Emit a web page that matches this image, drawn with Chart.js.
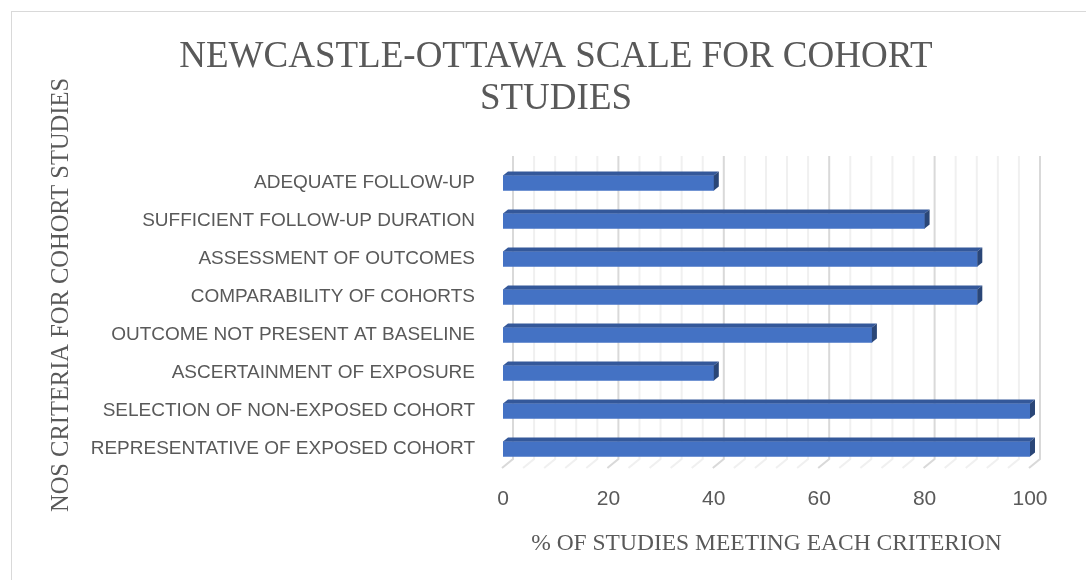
<!DOCTYPE html>
<html>
<head>
<meta charset="utf-8">
<script src="https://cdn.jsdelivr.net/npm/chart.js@4/dist/chart.umd.min.js"></script>
<style>
  html, body { margin: 0; padding: 0; background: #ffffff; }
  #wrap { position: relative; width: 1086px; height: 580px; }
</style>
</head>
<body>
<div id="wrap"><canvas id="c" width="1086" height="580"></canvas></div>
<script>
// NOS criteria, listed top to bottom
const criteria = [
  'ADEQUATE FOLLOW-UP',
  'SUFFICIENT FOLLOW-UP DURATION',
  'ASSESSMENT OF OUTCOMES',
  'COMPARABILITY OF COHORTS',
  'OUTCOME NOT PRESENT AT BASELINE',
  'ASCERTAINMENT OF EXPOSURE',
  'SELECTION OF NON-EXPOSED COHORT',
  'REPRESENTATIVE OF EXPOSED COHORT'
];
// % of studies meeting each criterion
const percentMeeting = [40, 80, 90, 90, 70, 40, 100, 100];
// value axis ticks
const axisMin = 0;
const axisMax = 100;
const majorStep = 20;
const minorStep = 4;

const chartTitle = ['NEWCASTLE-OTTAWA SCALE FOR COHORT', 'STUDIES'];
const xTitle = '% OF STUDIES MEETING EACH CRITERION';
const yTitle = 'NOS CRITERIA FOR COHORT STUDIES';

const TEXT = '#595959';
const WALL = { dx: 10, dy: 9 };   // depth of the back wall
const BAR3D = { dx: 5, dy: 4 };   // depth of each bar

// Frame, main title and the vertical axis title
const framePlugin = {
  id: 'frame',
  beforeDraw(chart) {
    const ctx = chart.ctx;
    ctx.save();
    ctx.fillStyle = '#ffffff';
    ctx.fillRect(0, 0, chart.width, chart.height);
    ctx.strokeStyle = '#d9d9d9';
    ctx.lineWidth = 1;
    ctx.strokeRect(11.5, 11.5, chart.width + 20, chart.height + 20);
    ctx.restore();
  },
  afterDraw(chart) {
    const ctx = chart.ctx;
    ctx.save();
    ctx.fillStyle = TEXT;
    ctx.font = '37px "Liberation Serif", serif';
    ctx.textAlign = 'center';
    ctx.textBaseline = 'middle';
    chartTitle.forEach((line, i) => ctx.fillText(line, 556, 57 + i * 42));
    ctx.translate(62, 295);
    ctx.rotate(-Math.PI / 2);
    ctx.font = '24.5px "Liberation Serif", serif';
    ctx.fillText(yTitle, 0, 0);
    ctx.restore();
  }
};

// Back wall gridlines and floor lines of the 3-D plot area, then bar depth faces
const wallPlugin = {
  id: 'wall',
  beforeDatasetsDraw(chart) {
    const ctx = chart.ctx;
    const xs = chart.scales.x;
    const area = chart.chartArea;
    const top = area.top - 8;
    const backBottom = area.bottom - WALL.dy;
    ctx.save();
    ctx.lineWidth = 2;
    for (let v = axisMin; v <= axisMax; v += minorStep) {
      const major = v % majorStep === 0;
      const xb = xs.getPixelForValue(v) + WALL.dx;
      ctx.strokeStyle = major ? '#d9d9d9' : '#f0f0f0';
      ctx.beginPath();
      ctx.moveTo(xb, top);
      ctx.lineTo(xb, backBottom);
      ctx.lineTo(xb - WALL.dx - 1, area.bottom);
      ctx.stroke();
    }
    ctx.restore();
  },
  afterDatasetsDraw(chart) {
    const ctx = chart.ctx;
    const meta = chart.getDatasetMeta(0);
    ctx.save();
    meta.data.forEach(bar => {
      const p = bar.getProps(['x', 'y', 'base', 'height'], true);
      const x0 = p.base, x1 = p.x;
      const t = p.y - p.height / 2, b = p.y + p.height / 2;
      // top face
      ctx.fillStyle = '#34589a';
      ctx.beginPath();
      ctx.moveTo(x0, t);
      ctx.lineTo(x0 + BAR3D.dx, t - BAR3D.dy);
      ctx.lineTo(x1 + BAR3D.dx, t - BAR3D.dy);
      ctx.lineTo(x1, t);
      ctx.closePath();
      ctx.fill();
      // end face
      ctx.fillStyle = '#2a4677';
      ctx.beginPath();
      ctx.moveTo(x1, t);
      ctx.lineTo(x1 + BAR3D.dx, t - BAR3D.dy);
      ctx.lineTo(x1 + BAR3D.dx, b - BAR3D.dy);
      ctx.lineTo(x1, b);
      ctx.closePath();
      ctx.fill();
    });
    ctx.restore();
  }
};

const LEFT_PAD = 20;
const AREA_LEFT = 503;
const AREA_TOP = 164;
const AREA_BOTTOM = 468;
const BOTTOM_PAD = 22;

new Chart(document.getElementById('c'), {
  type: 'bar',
  data: {
    labels: criteria,
    datasets: [{
      data: percentMeeting,
      backgroundColor: '#4472c4',
      borderWidth: 0,
      barThickness: 15
    }]
  },
  plugins: [framePlugin, wallPlugin],
  options: {
    indexAxis: 'y',
    responsive: false,
    animation: false,
    layout: { padding: { left: LEFT_PAD, right: 56, top: AREA_TOP, bottom: BOTTOM_PAD } },
    plugins: {
      legend: { display: false },
      title: { display: false },
      tooltip: { enabled: false }
    },
    scales: {
      x: {
        min: axisMin,
        max: axisMax,
        border: { display: false },
        grid: { display: false },
        ticks: {
          stepSize: majorStep,
          color: TEXT,
          padding: 11,
          font: { family: '"Liberation Sans", sans-serif', size: 21 }
        },
        title: {
          display: true,
          text: xTitle,
          color: TEXT,
          padding: { top: 0, bottom: 0 },
          font: { family: '"Liberation Serif", serif', size: 23.5 }
        },
        afterFit(scale) { scale.height = 580 - AREA_BOTTOM - BOTTOM_PAD; }
      },
      y: {
        border: { display: false },
        grid: { display: false },
        ticks: {
          color: TEXT,
          padding: 20,
          font: { family: '"Liberation Sans", sans-serif', size: 19 }
        },
        afterFit(scale) { scale.width = AREA_LEFT - LEFT_PAD; }
      }
    }
  }
});
</script>
</body>
</html>
